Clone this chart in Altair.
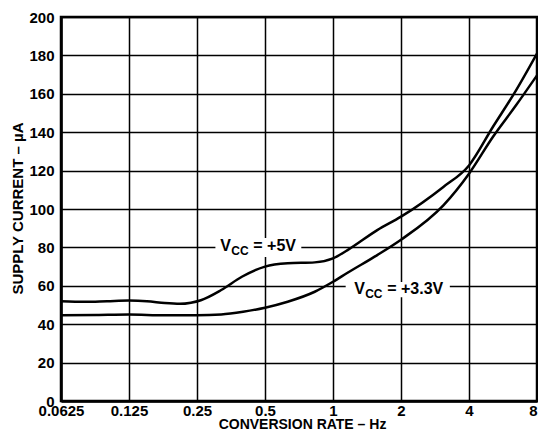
import altair as alt
import pandas as pd

# Vcc = +5V curve
f5 = [0.0625, 0.08, 0.1, 0.125, 0.15, 0.18, 0.21, 0.235, 0.26, 0.32, 0.395, 0.5, 0.63, 0.83, 1.0, 1.16, 1.57, 2.0, 3.08, 4.0, 5.1, 6.46, 8.0]
i5 = [52.0, 51.7, 52.0, 52.3, 52.0, 51.0, 50.6, 51.2, 52.5, 57.8, 64.7, 70.0, 71.7, 72.2, 74.3, 78.6, 89.0, 96.0, 111.5, 122.7, 142.7, 161.8, 181.0]
# Vcc = +3.3V curve
f33 = [0.0625, 0.09, 0.125, 0.18, 0.25, 0.32, 0.4, 0.5, 0.63, 0.83, 1.0, 1.16, 1.57, 2.0, 3.08, 4.0, 5.1, 6.46, 8.0]
i33 = [44.6, 44.8, 45.0, 44.7, 44.7, 45.1, 46.5, 48.6, 51.7, 56.9, 62.1, 66.8, 76.0, 84.0, 101.9, 118.4, 137.5, 154.0, 169.6]

x_ticks = [0.0625, 0.125, 0.25, 0.5, 1, 2, 4, 8]
y_ticks = [0, 20, 40, 60, 80, 100, 120, 140, 160, 180, 200]

# annotation labels: anchor of "V" and background box
lab_main = ["V", "V"]
lab_sub = ["CC", "CC"]
lab_rest = ["= +5V", "= +3.3V"]
lab_x = [0.317, 1.241]
lab_y = [78.3, 55.7]
box_x = [0.3016, 1.138]
box_x2 = [0.7239, 3.29]
box_y = [75.0, 54.0]
box_y2 = [84.9, 62.0]

FONT = "Liberation Sans"

df = pd.concat([
    pd.DataFrame({"f": f5, "i": i5, "s": "5V"}),
    pd.DataFrame({"f": f33, "i": i33, "s": "3.3V"}),
])
lab = pd.DataFrame({"main": lab_main, "sub": lab_sub, "rest": lab_rest,
                    "x": lab_x, "y": lab_y,
                    "bx": box_x, "bx2": box_x2, "by": box_y, "by2": box_y2})

xs = alt.Scale(type="log", base=2, domain=[0.0625, 8], nice=False)
ys = alt.Scale(domain=[0, 200], nice=False)

xax = alt.Axis(values=x_ticks, format="~g", title="CONVERSION RATE – Hz",
               grid=True, ticks=False, labelPadding=2, labelOverlap=False,
               labelFlush=False, labelBound=False,
               labelAlign={"expr": "datum.value >= 8 ? 'right' : 'center'"},
               titleX=241, titleY=27, titleFontSize=14,
               titleBaseline="alphabetic", titleAlign="center")
yax = alt.Axis(values=y_ticks, title="SUPPLY CURRENT – µA", grid=True, ticks=False,
               labelPadding=7, labelOverlap=False, labelFlush=False, labelBound=False,
               titleAngle=-90, titleX=-44, titleY=191,
               titleAlign="center", titleBaseline="middle")

X = lambda fld: alt.X(fld, scale=xs, axis=xax)
Y = lambda fld: alt.Y(fld, scale=ys, axis=yax)

lines = alt.Chart(df).mark_line(color="black", strokeWidth=2.5, interpolate="monotone").encode(
    x=X("f:Q"), y=Y("i:Q"), detail="s:N",
)

boxes = alt.Chart(lab).mark_rect(color="white").encode(
    x=X("bx:Q"), x2="bx2", y=Y("by:Q"), y2="by2"
)

t_main = alt.Chart(lab).mark_text(font=FONT, fontWeight="bold", fontSize=16, align="left",
                                  baseline="alphabetic", color="black").encode(
    x=X("x:Q"), y=Y("y:Q"), text="main:N")
t_sub = alt.Chart(lab).mark_text(font=FONT, fontWeight="bold", fontSize=12, align="left",
                                 baseline="alphabetic", color="black", dx=11, dy=4).encode(
    x=X("x:Q"), y=Y("y:Q"), text="sub:N")
t_rest = alt.Chart(lab).mark_text(font=FONT, fontWeight="bold", fontSize=16, align="left",
                                  baseline="alphabetic", color="black", dx=33).encode(
    x=X("x:Q"), y=Y("y:Q"), text="rest:N")

chart = alt.layer(lines, boxes, t_main, t_sub, t_rest).properties(
    width=476, height=384,
    autosize=alt.AutoSizeParams(type="none"),
    padding={"left": 53, "top": 9, "right": 1, "bottom": 31},
).configure_view(
    stroke="black", strokeWidth=2.5
).configure_axis(
    gridColor="black", gridWidth=1.5, gridOpacity=1,
    domainColor="black", domainWidth=2.5,
    labelFont=FONT, labelFontWeight="bold", labelFontSize=15, labelColor="black",
    titleFont=FONT, titleFontWeight="bold", titleFontSize=15, titleColor="black",
)

chart.save("out.html", embed_options={"renderer": "svg", "actions": False})
